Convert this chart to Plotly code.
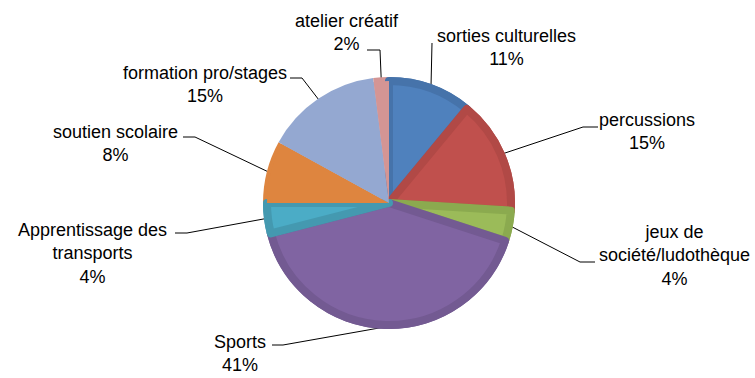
import math
import plotly.graph_objects as go

# Activity shares (percent), clockwise from 12 o'clock
categories = [
    "sorties culturelles",
    "percussions",
    "jeux de société/ludothèque",
    "Sports",
    "Apprentissage des transports",
    "soutien scolaire",
    "formation pro/stages",
    "atelier créatif",
]
shares = [11, 15, 4, 41, 4, 8, 15, 2]

# Label text as wrapped on the chart
label_lines = [
    ["sorties culturelles"],
    ["percussions"],
    ["jeux de", "société/ludothèque"],
    ["Sports"],
    ["Apprentissage des", "transports"],
    ["soutien scolaire"],
    ["formation pro/stages"],
    ["atelier créatif"],
]

# Slice colours: rim (darker edge) and face (lighter inset)
rim_colors = ["#4673AA", "#B14946", "#8BAA4F", "#735A92", "#4499B0", "#DE853F", "#94A8D1", "#D49594"]
face_colors = ["#4F81BD", "#C0504D", "#9BBB59", "#8064A2", "#4BACC6", "#DE853F", "#94A8D1", "#D49594"]
beveled = [True, True, True, True, True, False, False, False]

W, H = 755, 378
CX, CY, R = 389, 203, 126      # pie centre and radius in pixels
RIM = 8                          # bevel width

# Label block centres and leader-line elbows (pixels)
label_pos = [(506, 47), (647, 131), (674, 255), (240, 353), (92, 253), (115, 143), (205, 84), (347, 32)]
leader_elbows = [
    [(432, 43)],
    [(598, 127), (583, 127)],
    [(595, 262), (580, 262)],
    [(272, 345), (283, 345)],
    [(175, 233), (187, 233)],
    [(183, 137), (195, 137)],
    [(290, 78), (302, 78)],
    [(367, 50), (380, 50)],
]

FONT = "Liberation Sans, Arial, sans-serif"


def domain_for(radius):
    return dict(
        x=[(CX - radius) / W, (CX + radius) / W],
        y=[1 - (CY + radius) / H, 1 - (CY - radius) / H],
    )


fig = go.Figure()

# Base pie in rim colours
fig.add_trace(go.Pie(
    labels=categories, values=shares, sort=False, direction="clockwise", rotation=0,
    marker=dict(colors=rim_colors, line=dict(width=0)),
    textinfo="none", hoverinfo="label+percent", showlegend=False,
    domain=domain_for(R),
))

# Inset face pie; its stroke forms the bevel along the radial edges
half = RIM / 2
fig.add_trace(go.Pie(
    labels=categories, values=shares, sort=False, direction="clockwise", rotation=0,
    marker=dict(
        colors=face_colors,
        line=dict(width=[RIM if b else 0 for b in beveled], color=rim_colors),
    ),
    textinfo="none", hoverinfo="skip", showlegend=False,
    domain=domain_for(R - half),
))

# Leader lines from each slice's mid-angle on the rim to its label
total = sum(shares)
lx, ly = [], []
cum = 0
for v, elbows in zip(shares, leader_elbows):
    ang = 2 * math.pi * (cum + v / 2) / total
    cum += v
    px = CX + (R - 2) * math.sin(ang)
    py = CY - (R - 2) * math.cos(ang)
    for ex, ey in elbows:
        lx.append(ex)
        ly.append(ey)
    lx += [px, None]
    ly += [py, None]

fig.add_trace(go.Scatter(
    x=lx, y=ly, mode="lines", line=dict(color="#000000", width=1),
    hoverinfo="skip", showlegend=False,
))

# Category labels with percentages
for lines, v, (tx, ty) in zip(label_lines, shares, label_pos):
    text = "<br>".join(lines + [f"{round(100 * v / total)}%"])
    fig.add_annotation(
        x=tx, y=ty, xref="x", yref="y", text=text, showarrow=False,
        font=dict(family=FONT, size=18, color="#000000"),
        align="center", xanchor="center", yanchor="middle",
    )

fig.update_layout(
    width=W, height=H, margin=dict(l=0, r=0, t=0, b=0),
    paper_bgcolor="#FFFFFF", plot_bgcolor="rgba(0,0,0,0)",
    xaxis=dict(range=[0, W], visible=False, domain=[0, 1], fixedrange=True),
    yaxis=dict(range=[H, 0], visible=False, domain=[0, 1], fixedrange=True),
    font=dict(family=FONT),
)

fig.write_html("out.html")
